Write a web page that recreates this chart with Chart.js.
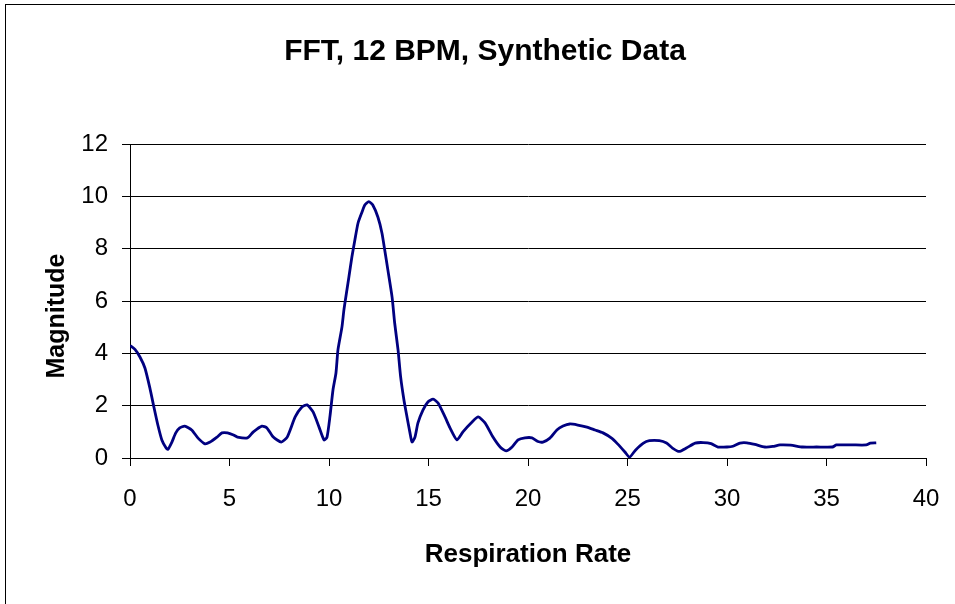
<!DOCTYPE html>
<html>
<head>
<meta charset="utf-8">
<script src="https://cdn.jsdelivr.net/npm/chart.js@4"></script>
<style>
    html, body { margin: 0; padding: 0; background: #fff; overflow: hidden; }
    #wrap { position: relative; width: 955px; height: 604px; }
    #frame { position: absolute; left: 5px; top: 4px; width: 1000px; height: 700px; border: 1px solid #000; }
    canvas { position: absolute; left: 0; top: 0; }
</style>
</head>
<body>
<div id="wrap">
    <div id="frame"></div>
    <canvas id="fft-chart" width="955" height="604"></canvas>
</div>
<script>
// Données
const rates = [
    0.0, 0.25, 0.5, 0.75, 1.0, 1.2, 1.4, 1.6, 1.8, 1.9,
    2.1, 2.3, 2.5, 2.75, 3.1, 3.42, 3.77, 4.0, 4.37, 4.62,
    4.9, 5.2, 5.4, 5.9, 6.2, 6.63, 6.88, 7.2, 7.6, 7.9,
    8.3, 8.64, 8.9, 9.2, 9.5, 9.75, 9.9, 10.05, 10.2, 10.35,
    10.45, 10.65, 10.75, 10.9, 11.0, 11.15, 11.3, 11.46, 11.66, 11.8,
    12.0, 12.2, 12.46, 12.66, 12.8, 12.96, 13.17, 13.3, 13.47, 13.6,
    13.77, 13.92, 14.07, 14.17, 14.32, 14.47, 14.72, 14.97, 15.23, 15.48,
    15.83, 16.08, 16.43, 16.73, 17.19, 17.5, 17.84, 18.24, 18.6, 18.9,
    19.2, 19.5, 19.85, 20.2, 20.5, 20.75, 21.1, 21.45, 21.76, 22.1,
    22.5, 22.96, 23.37, 23.77, 24.2, 24.5, 24.87, 25.1, 25.4, 25.8,
    26.1, 26.6, 26.96, 27.26, 27.6, 27.96, 28.4, 28.8, 29.2, 29.55,
    30.0, 30.3, 30.65, 31.0, 31.4, 31.9, 32.3, 32.66, 33.2, 33.8,
    34.5, 35.3, 35.5, 36.3, 37.0, 37.2, 37.5
];
const magnitudes = [
    4.3, 4.15, 3.86, 3.44, 2.67, 1.95, 1.26, 0.69, 0.4, 0.33,
    0.6, 0.96, 1.15, 1.22, 1.07, 0.76, 0.54, 0.6, 0.8, 0.96,
    0.96, 0.88, 0.8, 0.77, 1.0, 1.22, 1.15, 0.8, 0.61, 0.8,
    1.57, 1.95, 2.03, 1.76, 1.18, 0.69, 0.8, 1.6, 2.6, 3.25,
    4.13, 5.0, 5.66, 6.42, 6.92, 7.68, 8.33, 8.98, 9.4, 9.67,
    9.8, 9.67, 9.2, 8.6, 7.95, 7.18, 6.15, 5.16, 4.13, 3.1,
    2.2, 1.57, 0.96, 0.61, 0.8, 1.34, 1.83, 2.14, 2.25, 2.1,
    1.57, 1.15, 0.69, 1.0, 1.38, 1.57, 1.34, 0.8, 0.42, 0.27,
    0.42, 0.69, 0.77, 0.77, 0.63, 0.61, 0.76, 1.07, 1.22, 1.3,
    1.26, 1.18, 1.07, 0.96, 0.76, 0.54, 0.23, 0.03, 0.3, 0.57,
    0.66, 0.66, 0.57, 0.38, 0.25, 0.38, 0.57, 0.59, 0.55, 0.42,
    0.42, 0.45, 0.57, 0.58, 0.52, 0.42, 0.44, 0.5, 0.49, 0.42,
    0.42, 0.42, 0.5, 0.5, 0.5, 0.57, 0.58
];
const xTicks = [0, 5, 10, 15, 20, 25, 30, 35, 40];
const yTicks = [0, 2, 4, 6, 8, 10, 12];

const chartTitle = 'FFT, 12 BPM, Synthetic Data';
const xTitle = 'Respiration Rate';
const yTitle = 'Magnitude';

const FONT = '"Liberation Sans", Arial, sans-serif';

// Titre principal et titre de l'axe Y dessinés à la main
const titlePlugin = {
    id: 'mainTitle',
    afterDraw(chart) {
        const ctx = chart.ctx;
        ctx.save();
        ctx.fillStyle = '#000';
        ctx.textAlign = 'center';
        ctx.textBaseline = 'middle';
        ctx.font = 'bold 30px ' + FONT;
        ctx.fillText(chartTitle, 485, 52);

        ctx.translate(57, 316);
        ctx.rotate(-Math.PI / 2);
        ctx.font = 'bold 25px ' + FONT;
        ctx.fillText(yTitle, 0, 0);
        ctx.restore();
    }
};

const points = rates.map((r, i) => ({ x: r, y: magnitudes[i] }));

new Chart(document.getElementById('fft-chart'), {
    type: 'line',
    data: {
        datasets: [{
            data: points,
            borderColor: '#000080',
            borderWidth: 2.8,
            pointRadius: 0,
            tension: 0.2,
            fill: false
        }]
    },
    options: {
        responsive: false,
        animation: false,
        layout: { padding: { top: 144, right: 29, left: 0, bottom: 0 } },
        plugins: {
            legend: { display: false },
            tooltip: { enabled: false }
        },
        scales: {
            x: {
                type: 'linear',
                min: 0,
                max: 40,
                afterBuildTicks: scale => { scale.ticks = xTicks.map(v => ({ value: v })); },
                afterFit: scale => { scale.height = 146; scale.paddingRight = 0; scale.paddingLeft = 0; },
                ticks: {
                    color: '#000',
                    font: { family: FONT, size: 24 },
                    padding: 19,
                    maxRotation: 0
                },
                grid: {
                    drawOnChartArea: false,
                    color: '#000',
                    tickLength: 8,
                    tickColor: '#000'
                },
                border: { color: '#000', width: 1 },
                title: {
                    display: true,
                    text: xTitle,
                    color: '#000',
                    font: { family: FONT, size: 26, weight: 'bold' },
                    padding: { top: 0, bottom: 34 }
                }
            },
            y: {
                min: 0,
                max: 12,
                afterBuildTicks: scale => { scale.ticks = yTicks.map(v => ({ value: v })); },
                afterFit: scale => { scale.width = 130; },
                ticks: {
                    color: '#000',
                    font: { family: FONT, size: 24 },
                    padding: 14
                },
                grid: {
                    color: '#000',
                    lineWidth: 1,
                    tickLength: 8,
                    tickColor: '#000'
                },
                border: { color: '#000', width: 1 }
            }
        }
    },
    plugins: [titlePlugin]
});
</script>
</body>
</html>
